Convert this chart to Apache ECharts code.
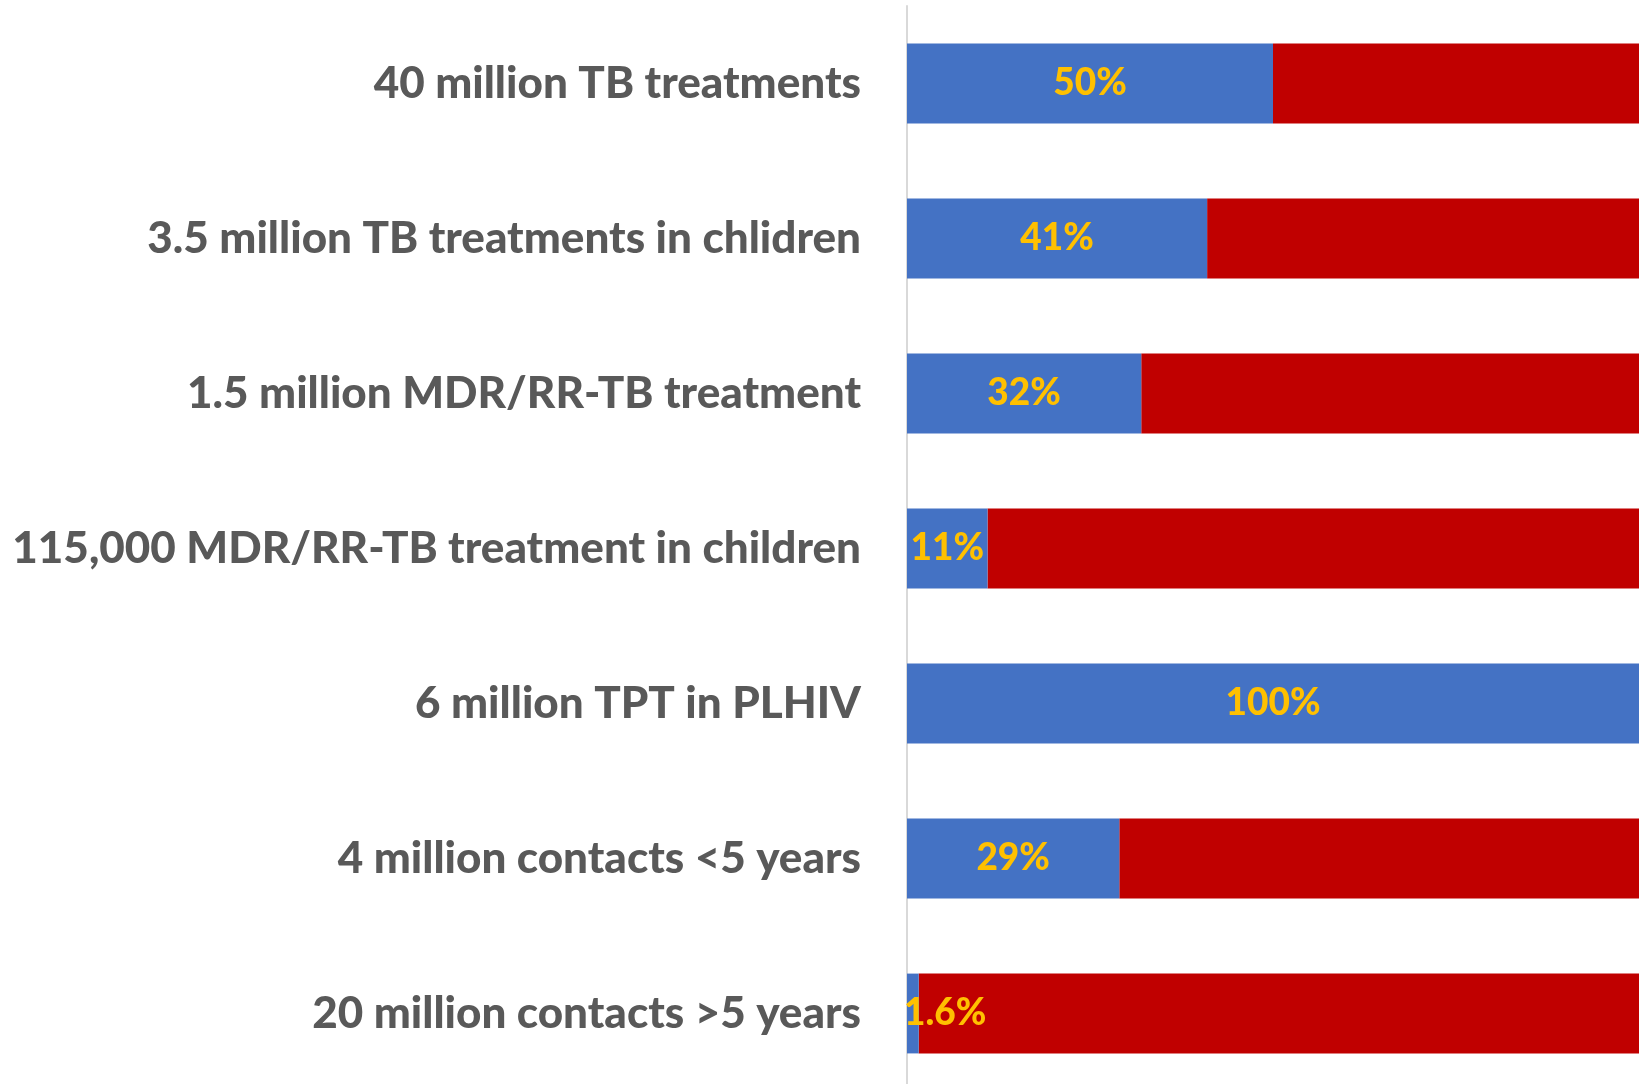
<!DOCTYPE html>
<html lang="en">
<head>
    <meta charset="UTF-8">
    <title>TB targets</title>
    <style>
        html, body { margin: 0; padding: 0; background: #fff; overflow: hidden; }
        /* a bit taller than the window so the last row band is cut like in the original */
        #main { width: 1639px; height: 1091px; }
    </style>
</head>
<body>
<div id="main"></div>
<script src="https://cdn.jsdelivr.net/npm/echarts@6/dist/echarts.min.js"></script>
<script>
    // categories, top to bottom
    var categories = [
        '40 million TB treatments',
        '3.5 million TB treatments in chlidren',
        '1.5 million MDR/RR-TB treatment',
        '115,000 MDR/RR-TB treatment in children',
        '6 million TPT in PLHIV',
        '4 million contacts <5 years',
        '20 million contacts >5 years'
    ];
    // achieved (blue) and remaining (red), percent
    var achieved = [50, 41, 32, 11, 100, 29, 1.6];
    var remaining = [50, 59, 68, 89, 0, 71, 98.4];
    var labelText = ['50%', '41%', '32%', '11%', '100%', '29%', '1.6%'];

    var fontName = 'Lato';
    var chart = echarts.init(document.getElementById('main'));

    var blueData = achieved.map(function (v, i) {
        var item = { value: v };
        // tiny bar: label starts at the axis instead of centering
        if (v < 5) {
            item.label = { position: 'insideLeft', distance: -3 };
        }
        return item;
    });

    var option = {
        animation: false,
        grid: { left: 907, right: 0, top: 6, bottom: 0 },
        xAxis: {
            type: 'value', min: 0, max: 100, show: false
        },
        yAxis: {
            type: 'category',
            data: categories,
            inverse: true,
            axisTick: { show: false },
            axisLine: { show: true, lineStyle: { color: '#D9D9D9', width: 2 } },
            axisLabel: {
                margin: 46,
                color: '#595959',
                fontFamily: fontName,
                fontWeight: 900,
                fontSize: 44
            }
        },
        series: [
            {
                name: 'achieved',
                type: 'bar',
                stack: 'total',
                barWidth: '51.5%',
                itemStyle: { color: '#4472C4' },
                label: {
                    show: true,
                    position: 'inside',
                    color: '#FFC000',
                    fontFamily: fontName,
                    fontWeight: 900,
                    fontSize: 37,
                    formatter: function (p) { return labelText[p.dataIndex]; }
                },
                data: blueData,
                z: 3
            },
            {
                name: 'remaining',
                type: 'bar',
                stack: 'total',
                barWidth: '51.5%',
                itemStyle: { color: '#C00000' },
                data: remaining,
                z: 2
            }
        ]
    };
    chart.setOption(option);
</script>
</body>
</html>
